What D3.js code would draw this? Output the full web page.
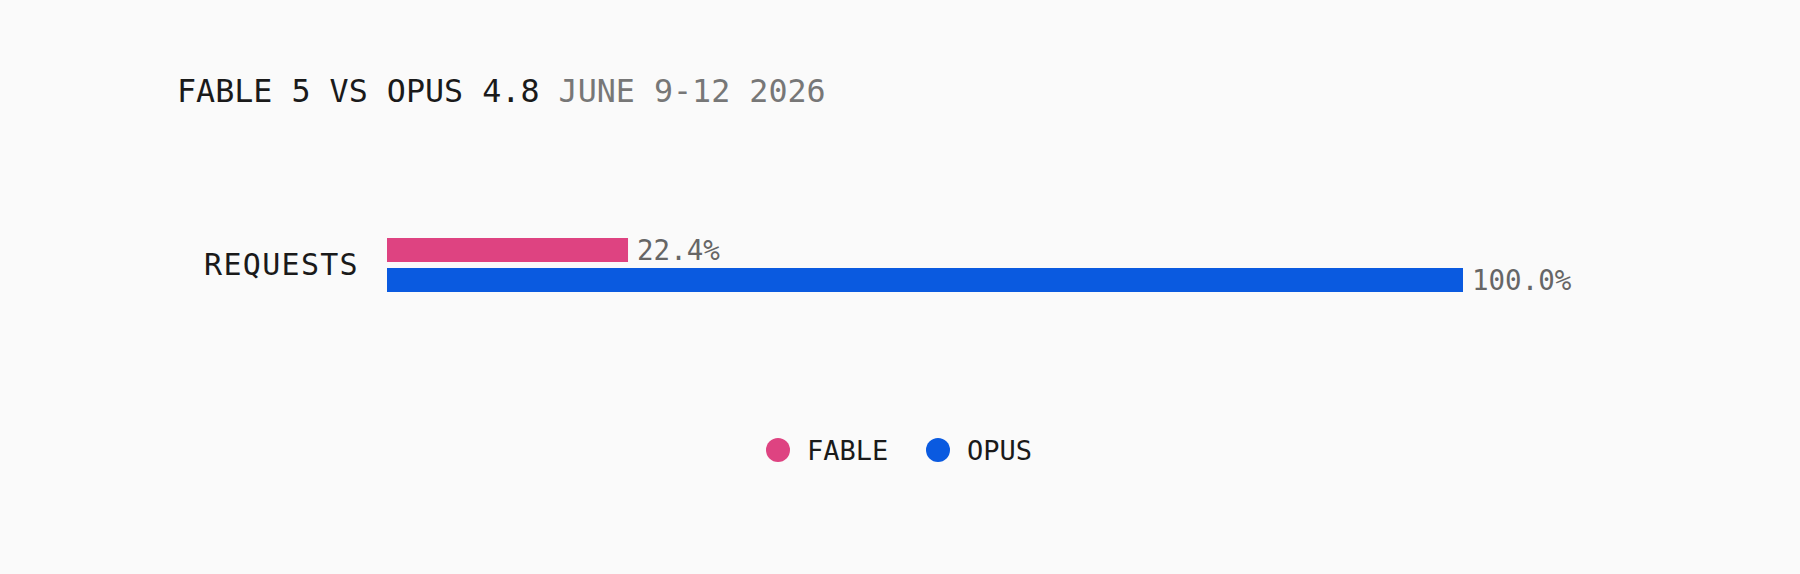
<!DOCTYPE html>
<html>
<head>
<meta charset="utf-8">
<script src="https://cdn.jsdelivr.net/npm/d3@7"></script>
<style>
  html, body { margin: 0; padding: 0; background: #fafafa; }
  svg { display: block; font-family: "DejaVu Sans Mono", monospace; }
</style>
</head>
<body>
<div id="chart"></div>
<script>
const categories = ['REQUESTS'];
const series = ['FABLE', 'OPUS'];
const fableValues = [22.4];
const opusValues = [100.0];
const titleMain = 'FABLE 5 VS OPUS 4.8';
const titleSub = 'JUNE 9-12 2026';

const colors = { FABLE: '#de4381', OPUS: '#0a5ae0' };

const W = 1800, H = 574;
const margin = { top: 238, right: 337, bottom: 282, left: 387 };

const rows = categories.map((c, i) => ({
  category: c,
  values: [
    { key: 'FABLE', value: fableValues[i] },
    { key: 'OPUS', value: opusValues[i] }
  ]
}));

const svg = d3.select('#chart')
  .append('svg')
    .attr('width', W)
    .attr('height', H);

svg.append('rect')
  .attr('width', W)
  .attr('height', H)
  .attr('fill', '#fafafa');

// title
const title = svg.append('text')
  .attr('x', 177)
  .attr('y', 102)
  .attr('font-size', 31.7)
  .attr('fill', '#1a1a1a');
title.append('tspan').text(titleMain + ' ');
title.append('tspan').attr('fill', '#777').text(titleSub);

const x = d3.scaleLinear()
  .domain([0, 100])
  .range([margin.left, W - margin.right]);

const y = d3.scaleBand()
  .domain(categories)
  .range([margin.top, H - margin.bottom]);

const ySub = d3.scaleBand()
  .domain(series)
  .range([0, y.bandwidth()])
  .paddingInner(0.2);

// category axis
const yAxis = svg.append('g')
  .attr('transform', `translate(${margin.left},0)`)
  .call(d3.axisLeft(y).tickSize(0).tickPadding(28));
yAxis.select('.domain').remove();
yAxis.selectAll('text')
  .attr('font-family', '"DejaVu Sans Mono", monospace')
  .attr('font-size', 30)
  .attr('letter-spacing', 1.3)
  .attr('fill', '#1a1a1a');

// bars
const groups = svg.selectAll('.row')
  .data(rows)
  .enter().append('g')
    .attr('class', 'row')
    .attr('transform', d => `translate(0,${y(d.category)})`);

groups.selectAll('rect')
  .data(d => d.values)
  .enter().append('rect')
    .attr('x', x(0))
    .attr('y', d => ySub(d.key))
    .attr('width', d => x(d.value) - x(0))
    .attr('height', ySub.bandwidth())
    .attr('fill', d => colors[d.key]);

groups.selectAll('.val')
  .data(d => d.values)
  .enter().append('text')
    .attr('class', 'val')
    .attr('x', d => x(d.value) + 9)
    .attr('y', d => ySub(d.key) + ySub.bandwidth() / 2)
    .attr('dy', '0.36em')
    .attr('font-size', 27.5)
    .attr('fill', '#666')
    .text(d => d.value.toFixed(1) + '%');

// legend
const legendItems = [
  { key: 'FABLE', x: 778 },
  { key: 'OPUS', x: 938 }
];
const legend = svg.append('g').attr('transform', 'translate(0,450)');
const li = legend.selectAll('g')
  .data(legendItems)
  .enter().append('g')
    .attr('transform', d => `translate(${d.x},0)`);
li.append('circle')
  .attr('r', 12)
  .attr('fill', d => colors[d.key]);
li.append('text')
  .attr('x', 29)
  .attr('dy', '0.36em')
  .attr('font-size', 27)
  .attr('fill', '#1a1a1a')
  .text(d => d.key);
</script>
</body>
</html>
